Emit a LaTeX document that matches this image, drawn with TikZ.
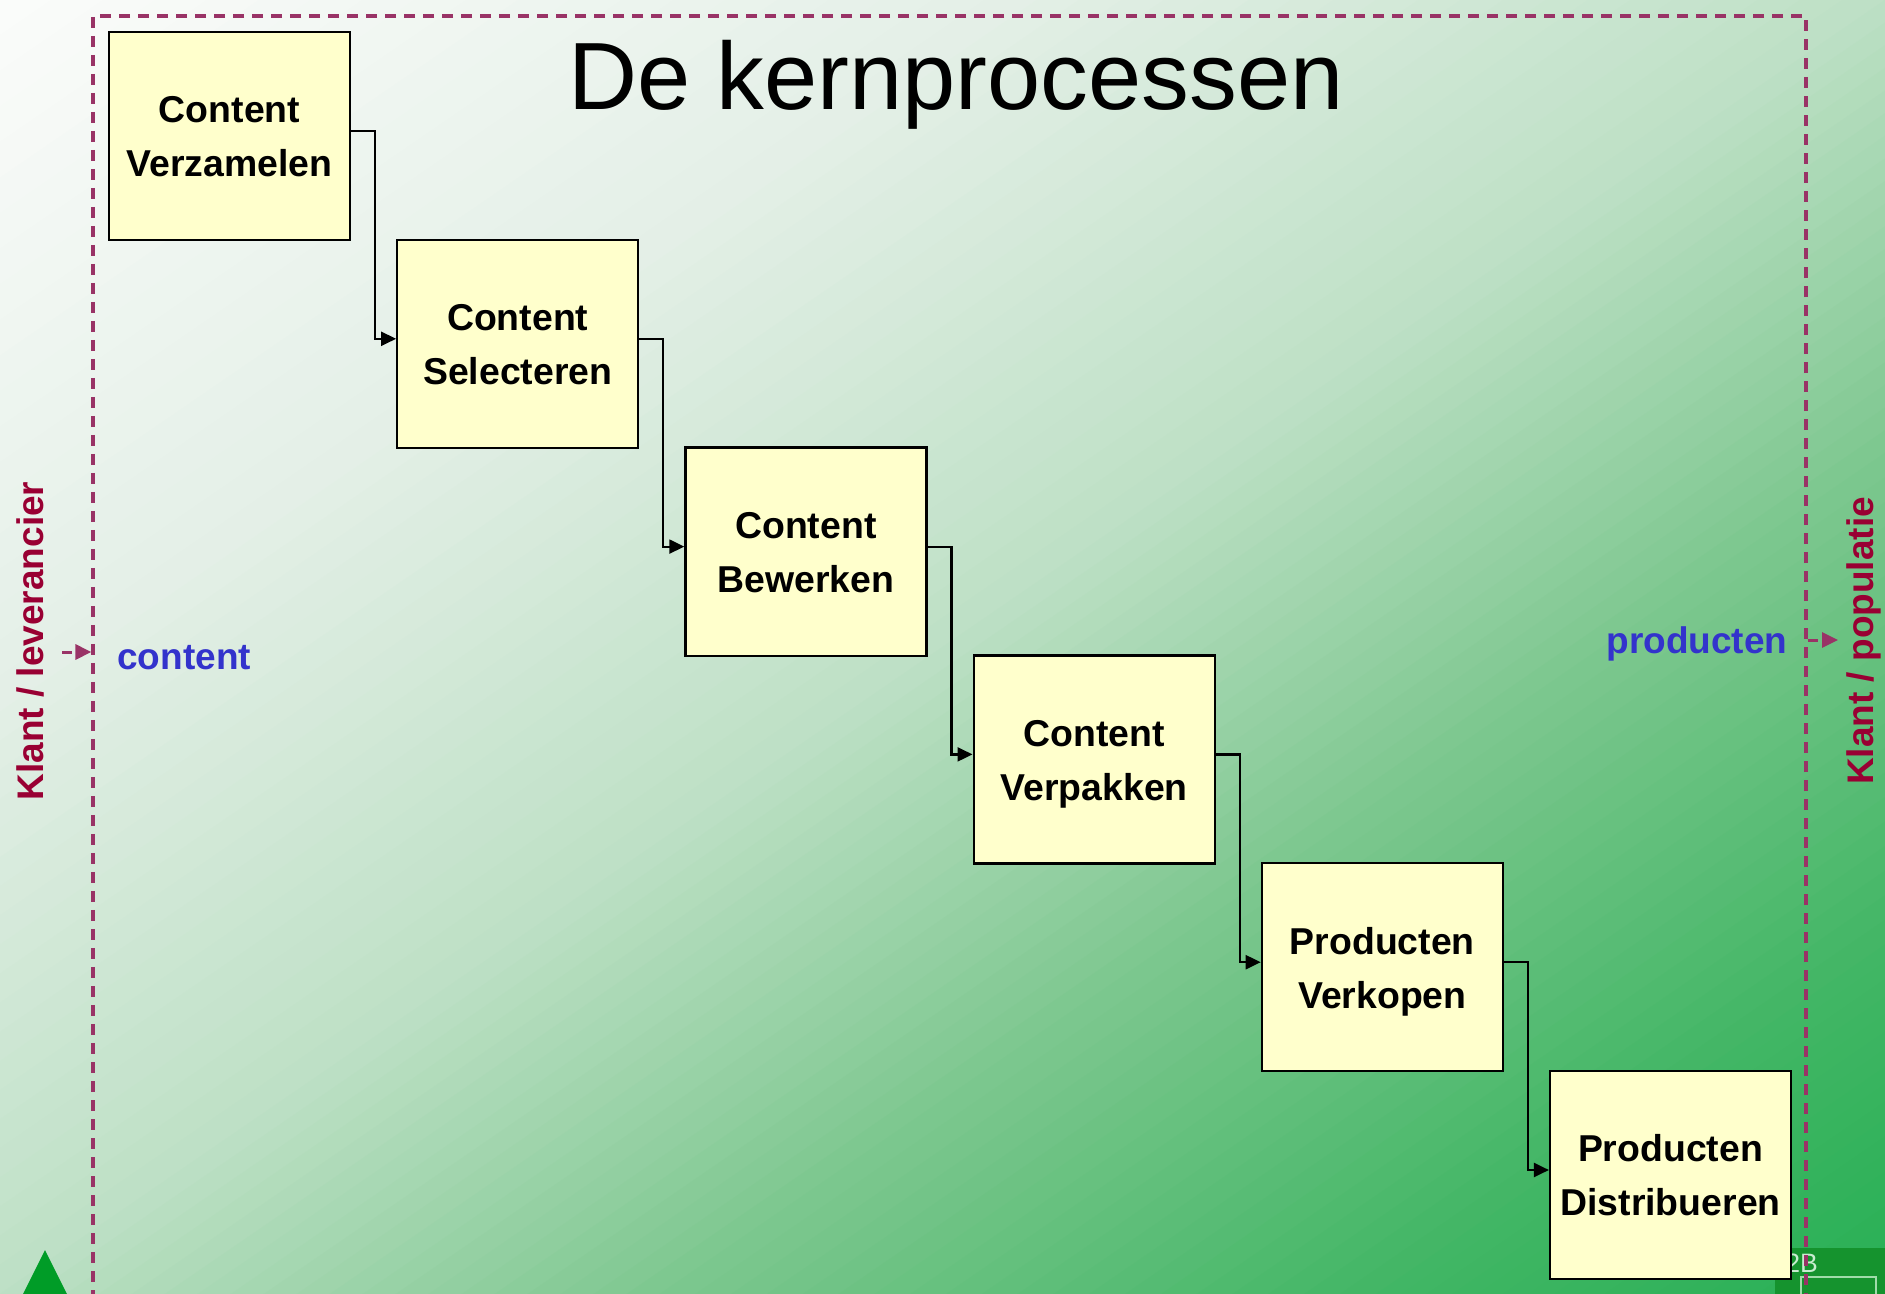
\documentclass[tikz,border=0pt]{standalone}
\usepackage{fontspec}
\setmainfont{Liberation Sans}
\usetikzlibrary{arrows.meta}

% background gradient stops (along the main diagonal)
\definecolor{gA}{HTML}{FBFCFB}
\definecolor{gB}{HTML}{E3EFE6}
\definecolor{gC}{HTML}{BDE0C5}
\definecolor{gD}{HTML}{7DC78F}
\definecolor{gE}{HTML}{42B665}
\definecolor{gF}{HTML}{28B055}

\definecolor{boxfill}{HTML}{FFFFCC}
\definecolor{framec}{HTML}{993366}
\definecolor{partyc}{HTML}{990033}
\definecolor{flowtext}{HTML}{3333CC}
\definecolor{trigreen}{HTML}{009C27}
\definecolor{decogreen}{HTML}{15932E}
\definecolor{decotext}{HTML}{C8ECD0}
\definecolor{decoline}{HTML}{A0DCAA}

% two-line step label with a fixed vertical layout
\newcommand{\steptext}[2]{\rule{0pt}{21.9pt}#1\\#2\strut}

\begin{document}
\begin{tikzpicture}[x=0.5pt,y=-0.5pt,
  stepbox/.style={draw=black, line width=1.1pt, fill=boxfill,
    minimum width=120.5pt, minimum height=104pt, inner sep=0pt,
    align=center, font=\fontsize{18.7}{27}\selectfont\bfseries},
  conn/.style={draw=black, line width=1.1pt,
    -{Triangle[length=7.5pt,width=7pt]}},
  flow/.style={draw=framec, line width=1.5pt, dash pattern=on 5pt off 2.5pt,
    -{Triangle[length=8pt,width=7.5pt]}},
  frameline/.style={draw=framec, line width=1.6pt,
    dash pattern=on 5.5pt off 4pt},
  flowlabel/.style={text=flowtext, font=\fontsize{18.5}{22}\selectfont\bfseries,
    inner sep=0pt},
  party/.style={text=partyc, font=\fontsize{18.5}{22}\selectfont\bfseries,
    inner sep=0pt, rotate=90, anchor=base},
]
\useasboundingbox (0,0) rectangle (1885,1294);
\begin{scope}
\clip (0,0) rectangle (1885,1294);

% diagonal gradient, built from thin strips
\foreach \sA/\sB/\cA/\cB in {0/0.55/gA/gB, 0.55/1/gB/gC, 1/1.35/gC/gD,
                               1.35/1.73/gD/gE, 1.73/2/gE/gF}{
  \foreach \j in {0,...,19}{
    \pgfmathsetmacro{\lo}{\sA+(\sB-\sA)*\j/20}
    \pgfmathsetmacro{\hi}{\sA+(\sB-\sA)*(\j+1.4)/20}
    \pgfmathsetmacro{\pc}{(\j+0.5)*5}
    \fill[\cB!\pc!\cA] (\lo*1885,0) -- (\hi*1885,0) -- (0,\hi*1294)
      -- (0,\lo*1294) -- cycle;
  }
}

% template decorations
\fill[trigreen] (45,1250) -- (10,1320) -- (80,1320) -- cycle;
\fill[decogreen] (1775,1248) rectangle (1900,1320);
\node[anchor=base west, inner sep=0pt, text=decotext,
  font=\fontsize{13.3}{16}\selectfont] (logo) at (1785,1272) {2B};
\draw[decoline, line width=0.6pt] (1801,1277) rectangle (1876,1330);

% system boundary
\node[frameline, minimum width=856.5pt, minimum height=652pt, inner sep=0pt]
  (frame) at (949.5,668) {};

% title
\node[anchor=base, inner sep=0pt, font=\fontsize{47.8}{57}\selectfont]
  (title) at (956,110) {De kernprocessen};

% process steps
\node[stepbox] (b1) at (229.5,136) {\steptext{Content}{Verzamelen}};
\node[stepbox] (b2) at (517.7,343.8) {\steptext{Content}{Selecteren}};
\node[stepbox] (b3) at (805.9,551.6) {\steptext{Content}{Bewerken}};
\node[stepbox] (b4) at (1094.1,759.4) {\steptext{Content}{Verpakken}};
\node[stepbox] (b5) at (1382.3,967.2) {\steptext{Producten}{Verkopen}};
\node[stepbox] (b6) at (1670.5,1175) {\steptext{Producten}{Distribueren}};

% step connectors
\foreach \a/\b in {b1/b2, b2/b3, b3/b4, b4/b5, b5/b6}{
  \draw[conn] ([yshift=2.5pt]\a.east) -- ++(24,0) |- ([yshift=2.5pt]\b.west);
}

% inflow and outflow
\coordinate (srcL) at (62,652);
\draw[flow] (srcL) -- (srcL -| frame.west);
\coordinate (dstR) at (1838,640);
\draw[flow] (dstR -| frame.east) -- (dstR);

\node[flowlabel, anchor=base west] (inlabel) at (117,669) {content};
\node[flowlabel, anchor=base west] (outlabel) at (1606,653) {producten};

\node[party] (supplier) at (43,641) {Klant / leverancier};
\node[party] (customer) at (1873,641) {Klant / populatie};
\end{scope}
\end{tikzpicture}
\end{document}
